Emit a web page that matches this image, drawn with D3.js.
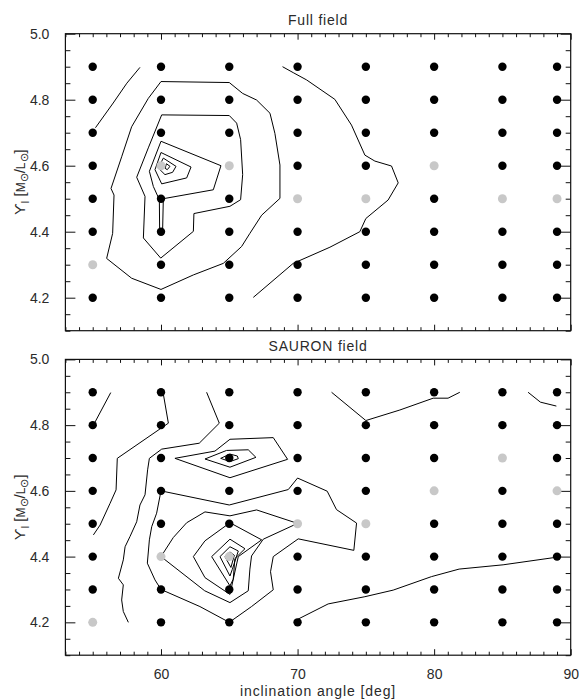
<!DOCTYPE html>
<html><head><meta charset="utf-8">
<script src="https://cdn.jsdelivr.net/npm/d3@7/dist/d3.min.js"></script>
<style>
body{margin:0;background:#fff;}
text{font-family:"Liberation Sans",Arial,sans-serif;fill:#2a2a2a;}
</style></head>
<body><svg id="c" width="579" height="700"></svg>
<script>
// ---------- data ----------
const inclinations = [55, 60, 65, 70, 75, 80, 85, 89];
const mlValues = [4.2, 4.3, 4.4, 4.5, 4.6, 4.7, 4.8, 4.9];
const xMajorTicks = [60, 70, 80, 90];
const yMajorTicks = [4.2, 4.4, 4.6, 4.8, 5.0];
const panelTitles = ["Full field", "SAURON field"];
const xLabel = "inclination angle [deg]";

const greyFull = [[60,4.6],[65,4.6],[80,4.6],[70,4.5],[75,4.5],[85,4.5],[89,4.5],[55,4.3]];
const greySauron = [[85,4.7],[80,4.6],[89,4.6],[70,4.5],[75,4.5],[60,4.4],[65,4.4],[55,4.2]];

// contour lines: [inclination, M/L] vertices ; closed flag
const contoursFull = [
  {closed:false, pts:[[55.2,4.715],[56.5,4.79],[57.5,4.85],[58.46,4.898]]},
  {closed:true, pts:[[60.0,4.855],[65.0,4.852],[65.98,4.819],[67.0,4.799],[67.98,4.759],[68.34,4.698],[68.71,4.602],[68.71,4.501],[67.37,4.45],[66.51,4.395],[65.9,4.355],[64.56,4.304],[62.37,4.269],[60.0,4.225],[57.85,4.259],[56.02,4.319],[56.46,4.395],[56.56,4.511],[56.34,4.531],[57.12,4.627],[57.85,4.718],[59.07,4.804]]},
  {closed:true, pts:[[60.05,4.754],[65.0,4.752],[65.54,4.729],[65.83,4.679],[65.98,4.573],[65.83,4.497],[65.05,4.477],[62.41,4.455],[62.37,4.401],[59.98,4.32],[58.71,4.381],[58.83,4.507],[58.22,4.565],[59.07,4.654]]},
  {closed:true, pts:[[60.0,4.674],[64.39,4.60],[63.83,4.527],[60.17,4.50],[60.12,4.406],[59.9,4.406],[59.88,4.497],[59.44,4.537],[59.15,4.583]]},
  {closed:true, pts:[[60.0,4.64],[62.2,4.596],[61.88,4.563],[60.05,4.545],[59.56,4.588]]},
  {closed:true, pts:[[60.17,4.623],[61.1,4.598],[60.85,4.58],[60.29,4.573],[59.8,4.593]]},
  {closed:true, pts:[[60.4,4.606],[60.66,4.598],[60.46,4.588],[60.3,4.592]]},
  {closed:false, pts:[[68.9,4.90],[69.68,4.882],[70.66,4.86],[72.73,4.801],[73.95,4.723],[74.93,4.632],[75.66,4.614],[76.88,4.599],[77.37,4.548],[76.63,4.496],[75.0,4.44],[74.56,4.40],[72.37,4.353],[69.68,4.304],[66.76,4.201]]}
];
const contoursSauron = [
  {closed:false, pts:[[55.05,4.80],[56.32,4.899]]},
  {closed:false, pts:[[60.17,4.895],[60.54,4.806],[56.8,4.699],[56.71,4.603],[56.27,4.562],[55.54,4.496],[55.05,4.466]]},
  {closed:false, pts:[[63.34,4.90],[64.27,4.806],[62.8,4.745],[60.05,4.727],[59.15,4.699],[59.02,4.664],[58.83,4.588],[58.46,4.557],[58.22,4.506],[57.73,4.461],[57.37,4.43],[57.24,4.39],[56.88,4.334],[57.24,4.314],[57.12,4.268],[57.24,4.233],[57.61,4.20]]},
  {closed:true, pts:[[61.02,4.699],[63.95,4.721],[65.05,4.757],[68.22,4.762],[69.27,4.696],[65.05,4.64]]},
  {closed:true, pts:[[63.22,4.697],[64.8,4.723],[66.39,4.725],[66.95,4.702],[65.05,4.672]]},
  {closed:true, pts:[[64.37,4.699],[65.05,4.712],[65.59,4.706],[65.66,4.698],[65.05,4.689]]},
  {closed:true, pts:[[60.0,4.60],[65.0,4.557],[69.32,4.604],[70.0,4.639],[72.17,4.599],[72.85,4.543],[74.32,4.502],[74.12,4.419],[70.05,4.454],[68.22,4.40],[68.02,4.354],[68.22,4.299],[66.63,4.248],[65.0,4.20],[62.85,4.248],[60.0,4.30],[59.56,4.329],[59.0,4.38],[59.15,4.451],[59.32,4.491],[59.68,4.532]]},
  {closed:true, pts:[[60.0,4.40],[60.9,4.458],[61.88,4.503],[63.22,4.536],[65.05,4.524],[67.0,4.542],[70.0,4.501],[67.49,4.453],[66.63,4.402],[66.51,4.362],[66.39,4.296],[65.05,4.26],[63.2,4.296]]},
  {closed:true, pts:[[62.37,4.40],[63.22,4.448],[65.05,4.503],[67.37,4.451],[65.66,4.40],[65.29,4.331],[65.05,4.285],[63.22,4.336]]},
  {closed:true, pts:[[63.71,4.40],[65.05,4.453],[66.15,4.424],[65.41,4.394],[65.29,4.331],[65.05,4.311]]},
  {closed:true, pts:[[64.32,4.40],[65.05,4.43],[65.66,4.417],[65.22,4.361],[65.05,4.341]]},
  {closed:true, pts:[[64.68,4.40],[65.05,4.414],[65.37,4.404],[65.12,4.367]]},
  {closed:false, pts:[[72.49,4.90],[75.0,4.814],[77.49,4.846],[79.93,4.882],[81.02,4.882],[81.88,4.90]]},
  {closed:false, pts:[[86.88,4.90],[87.78,4.87],[88.95,4.858]]},
  {closed:false, pts:[[70.0,4.209],[72.24,4.256],[74.93,4.278],[77.0,4.298],[79.8,4.339],[81.83,4.362],[85.05,4.375],[88.95,4.398]]}
];

// ---------- drawing ----------
const svg = d3.select("#c");
const x = d3.scaleLinear().domain([53, 90]).range([65.4, 570.7]);
const panels = [
  {title: panelTitles[0], grey: greyFull, contours: contoursFull, top: 33.7, bottom: 330.7, titleY: 25, xLabels:false},
  {title: panelTitles[1], grey: greySauron, contours: contoursSauron, top: 359.4, bottom: 655.2, titleY: 351, xLabels:true}
];
const xMinor = d3.range(53, 91, 1).filter(v => !xMajorTicks.includes(v));
const yMinor = d3.range(4.1, 5.001, 0.05).map(v => +v.toFixed(2)).filter(v => !yMajorTicks.some(m => Math.abs(m - v) < 1e-6));

panels.forEach(p => {
  const y = d3.scaleLinear().domain([4.1, 5.0]).range([p.bottom, p.top]);
  const g = svg.append("g");
  const W = x.range()[1], L = x.range()[0];

  // axes (ticks inward)
  const mk = (axis) => { const a = g.append("g").call(axis); a.select(".domain").remove(); a.selectAll("line").attr("stroke","#111").attr("stroke-width",1); a.selectAll("text").attr("font-size",14).attr("fill","#2a2a2a").attr("font-family","Liberation Sans, Arial, sans-serif"); return a; };
  mk(d3.axisBottom(x).tickValues(xMajorTicks).tickSize(-6).tickPadding(14).tickFormat(p.xLabels ? d3.format("d") : () => "")).attr("transform", `translate(0,${p.bottom})`);
  mk(d3.axisBottom(x).tickValues(xMinor).tickSize(-3.5).tickFormat(() => "")).attr("transform", `translate(0,${p.bottom})`);
  mk(d3.axisTop(x).tickValues(xMajorTicks).tickSize(-6).tickFormat(() => "")).attr("transform", `translate(0,${p.top})`);
  mk(d3.axisTop(x).tickValues(xMinor).tickSize(-3.5).tickFormat(() => "")).attr("transform", `translate(0,${p.top})`);
  mk(d3.axisLeft(y).tickValues(yMajorTicks).tickSize(-10).tickPadding(16).tickFormat(d3.format(".1f"))).attr("transform", `translate(${L},0)`);
  mk(d3.axisLeft(y).tickValues(yMinor).tickSize(-5).tickFormat(() => "")).attr("transform", `translate(${L},0)`);
  mk(d3.axisRight(y).tickValues(yMajorTicks).tickSize(-10).tickFormat(() => "")).attr("transform", `translate(${W},0)`);
  mk(d3.axisRight(y).tickValues(yMinor).tickSize(-5).tickFormat(() => "")).attr("transform", `translate(${W},0)`);

  g.append("rect").attr("x", L).attr("y", p.top).attr("width", W - L).attr("height", p.bottom - p.top)
    .attr("fill","none").attr("stroke","#111").attr("stroke-width",1.2);

  // contours
  const line = d3.line().x(d => x(d[0])).y(d => y(d[1]));
  p.contours.forEach(c => {
    const pts = c.closed ? c.pts.concat([c.pts[0]]) : c.pts;
    g.append("path").attr("d", line(pts)).attr("fill","none").attr("stroke","#000").attr("stroke-width",1);
  });

  // grid points
  const isGrey = (a, b) => p.grey.some(q => q[0] === a && Math.abs(q[1] - b) < 1e-6);
  const pts = [];
  inclinations.forEach(a => mlValues.forEach(b => pts.push([a, b, isGrey(a, b)])));
  g.selectAll("circle.pt").data(pts).enter().append("circle")
    .attr("cx", d => x(d[0])).attr("cy", d => y(d[1]))
    .attr("r", d => d[2] ? 4.5 : 4.2)
    .attr("fill", d => d[2] ? "#c8c8c8" : "#000");

  // title
  g.append("text").attr("x", (L + W) / 2).attr("y", p.titleY).attr("text-anchor","middle")
    .attr("font-size",14).attr("letter-spacing","0.8px").text(p.title);

  // y label
  const cy = (p.top + p.bottom) / 2;
  const t = g.append("text").attr("transform", `translate(25,${cy}) rotate(-90)`).attr("text-anchor","middle").attr("font-size",15);
  t.append("tspan").text("ϒ");
  t.append("tspan").attr("font-size",10).attr("dy",4).text("I");
  t.append("tspan").attr("dy",-4).text(" [");
  t.append("tspan").attr("font-size",12).text("M");
  t.append("tspan").attr("font-size",11).attr("dy",3).text("⊙");
  t.append("tspan").attr("dy",-3).text("/");
  t.append("tspan").attr("font-size",12).text("L");
  t.append("tspan").attr("font-size",11).attr("dy",3).text("⊙");
  t.append("tspan").attr("dy",-3).text("]");
});

svg.append("text").attr("x", (x.range()[0] + x.range()[1]) / 2).attr("y", 696).attr("text-anchor","middle")
  .attr("font-size",14).attr("letter-spacing","0.9px").text(xLabel);
</script></body></html>
